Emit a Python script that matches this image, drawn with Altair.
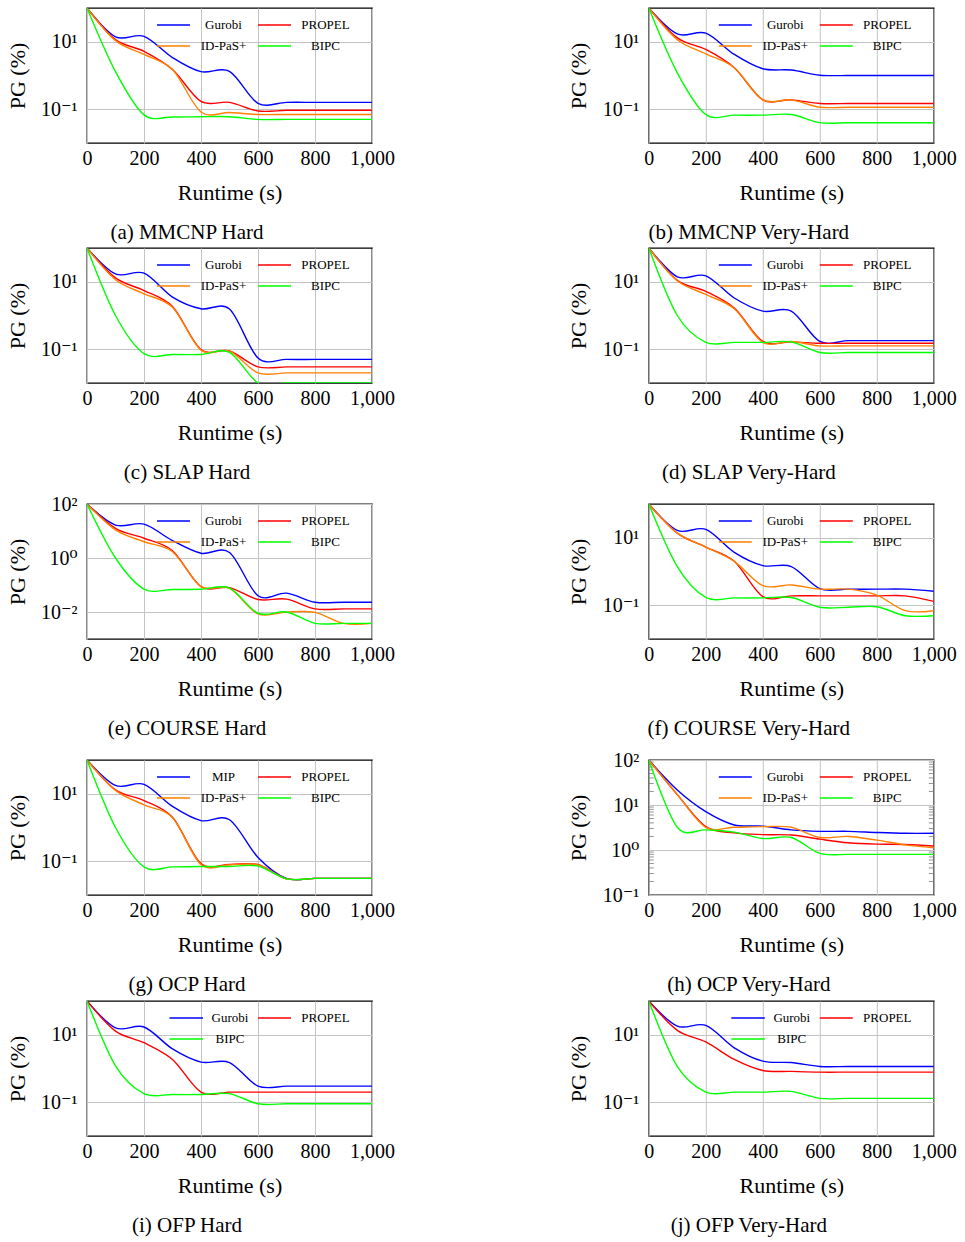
import altair as alt
import pandas as pd

# Shared time grid (seconds)
RUNTIME = [0, 100, 200, 300, 400, 500, 600, 700, 800, 900, 1000]

# Primal gap (%) per method, one dict of series per benchmark panel
MMCNP_HARD = {
    "Gurobi": [100, 14, 14.5, 3.4, 1.3, 1.33, 0.15, 0.16, 0.16, 0.16, 0.16],
    "PROPEL": [100, 11.6, 5.2, 1.5, 0.17, 0.16, 0.089, 0.093, 0.093, 0.093, 0.093],
    "ID-PaS+": [100, 10.8, 4.2, 1.5, 0.083, 0.08, 0.07, 0.07, 0.07, 0.07, 0.07],
    "BIPC": [100, 1.3, 0.068, 0.059, 0.06, 0.06, 0.05, 0.05, 0.05, 0.05, 0.05],
}
MMCNP_VHARD = {
    "Gurobi": [100, 17, 18, 4.2, 1.58, 1.45, 1.02, 1.0, 1.0, 1.0, 1.0],
    "PROPEL": [100, 13, 5.9, 1.7, 0.19, 0.19, 0.148, 0.148, 0.148, 0.148, 0.148],
    "ID-PaS+": [100, 11.5, 4.4, 1.7, 0.19, 0.19, 0.115, 0.115, 0.115, 0.115, 0.115],
    "BIPC": [100, 1.2, 0.07, 0.067, 0.067, 0.07, 0.04, 0.04, 0.04, 0.04, 0.04],
}
SLAP_HARD = {
    "Gurobi": [100, 17, 18, 3.5, 1.58, 1.55, 0.055, 0.05, 0.05, 0.05, 0.05],
    "PROPEL": [100, 13, 5.5, 1.85, 0.098, 0.089, 0.03, 0.03, 0.03, 0.03, 0.03],
    "ID-PaS+": [100, 11.5, 4.4, 1.75, 0.094, 0.088, 0.02, 0.02, 0.02, 0.02, 0.02],
    "BIPC": [100, 1.0, 0.074, 0.07, 0.07, 0.081, 0.0101, 0.0101, 0.0101, 0.0101, 0.0101],
}
SLAP_VHARD = {
    "Gurobi": [100, 14, 15, 3.3, 1.35, 1.35, 0.17, 0.18, 0.18, 0.18, 0.18],
    "PROPEL": [100, 11, 5.2, 1.66, 0.17, 0.165, 0.15, 0.15, 0.15, 0.15, 0.15],
    "ID-PaS+": [100, 10.7, 4.2, 1.58, 0.16, 0.17, 0.126, 0.126, 0.126, 0.126, 0.126],
    "BIPC": [100, 1.0, 0.16, 0.16, 0.16, 0.165, 0.08, 0.08, 0.08, 0.08, 0.08],
}
COURSE_HARD = {
    "Gurobi": [100, 16.6, 18, 4.4, 1.5, 1.6, 0.04, 0.05, 0.023, 0.023, 0.023],
    "PROPEL": [100, 12.6, 5.4, 1.87, 0.087, 0.08, 0.029, 0.03, 0.013, 0.013, 0.013],
    "ID-PaS+": [100, 11, 4, 1.7, 0.087, 0.075, 0.0085, 0.01, 0.0097, 0.0038, 0.0038],
    "BIPC": [100, 1.0, 0.071, 0.068, 0.07, 0.077, 0.009, 0.01, 0.0038, 0.0038, 0.0038],
}
COURSE_VHARD = {
    "Gurobi": [100, 16.5, 17.8, 3.7, 1.5, 1.4, 0.31, 0.3, 0.3, 0.3, 0.26],
    "PROPEL": [100, 13.7, 5.3, 2.0, 0.18, 0.19, 0.19, 0.19, 0.19, 0.19, 0.13],
    "ID-PaS+": [100, 13.7, 5.3, 2.0, 0.38, 0.4, 0.3, 0.3, 0.2, 0.069, 0.069],
    "BIPC": [100, 1.4, 0.17, 0.165, 0.165, 0.17, 0.087, 0.087, 0.09, 0.049, 0.049],
}
OCP_HARD = {
    "MIP": [100, 17.6, 19, 4.2, 1.6, 1.7, 0.13, 0.031, 0.031, 0.031, 0.031],
    "PROPEL": [100, 13, 6.3, 2.0, 0.085, 0.08, 0.08, 0.03, 0.031, 0.031, 0.031],
    "ID-PaS+": [100, 12.6, 4.7, 1.95, 0.08, 0.078, 0.078, 0.03, 0.031, 0.031, 0.031],
    "BIPC": [100, 1.0, 0.068, 0.068, 0.07, 0.07, 0.072, 0.03, 0.031, 0.031, 0.031],
}
OCP_VHARD = {
    "Gurobi": [100, 21.5, 7.1, 3.6, 3.4, 2.8, 2.6, 2.6, 2.45, 2.35, 2.35],
    "PROPEL": [100, 17, 3.3, 2.4, 2.2, 2.15, 1.74, 1.45, 1.35, 1.33, 1.23],
    "ID-PaS+": [100, 17, 3.2, 3.2, 3.3, 3.2, 1.9, 2.0, 1.66, 1.3, 1.12],
    "BIPC": [100, 3.2, 2.8, 2.5, 1.8, 1.9, 0.84, 0.8, 0.8, 0.8, 0.8],
}
OFP_HARD = {
    "Gurobi": [100, 16, 17, 3.8, 1.55, 1.5, 0.3, 0.3, 0.3, 0.3, 0.3],
    "PROPEL": [100, 12.8, 5.8, 1.85, 0.2, 0.2, 0.2, 0.2, 0.2, 0.2, 0.2],
    "BIPC": [100, 1.2, 0.18, 0.17, 0.17, 0.18, 0.09, 0.09, 0.09, 0.09, 0.09],
}
OFP_VHARD = {
    "Gurobi": [100, 18, 19, 4.1, 1.65, 1.5, 1.15, 1.15, 1.15, 1.15, 1.15],
    "PROPEL": [100, 13.5, 6.1, 1.85, 0.87, 0.82, 0.78, 0.78, 0.78, 0.78, 0.78],
    "BIPC": [100, 1.15, 0.2, 0.2, 0.2, 0.21, 0.13, 0.13, 0.13, 0.13, 0.13],
}

X_TICKS = [0, 200, 400, 600, 800, 1000]
Y_TICKS_STD = [0.1, 10]
Y_TICKS_COURSE = [0.01, 1, 100]
Y_TICKS_OCP = [0.1, 1, 10, 100]
MINOR_OCP = [0.2, 0.3, 0.4, 0.5, 0.6, 0.7, 0.8, 0.9,
             2, 3, 4, 5, 6, 7, 8, 9,
             20, 30, 40, 50, 60, 70, 80, 90]

COLORS = {"Gurobi": "#0000ff", "MIP": "#0000ff", "PROPEL": "#ff0000",
          "ID-PaS+": "#ff8000", "BIPC": "#00ff00"}
FONT = "Liberation Serif, DejaVu Serif, serif"
W, H = 285, 135
GRID = "#c4c4c4"

SUP = ("datum.value >= 50 ? '10²' : datum.value >= 5 ? '10¹' : "
       "datum.value >= 0.5 ? '10⁰' : datum.value >= 0.05 ? '10⁻¹' : '10⁻²'")

# legend slot geometry (pixels inside the plot): sample start, end, label centre, row y
FOUR = [(70, 103, 136.5, 17), (171, 204, 238.5, 17), (70, 103, 136.5, 38), (171, 204, 238.5, 38)]
THREE = [(82.5, 116, 143, 17), (171, 204, 238.5, 17), (82.5, 116, 143, 38)]


def one():
    return pd.DataFrame({"k": [0]})


def panel(caption, series, ydom, yticks, slots, top_margin, minor=None):
    x = alt.X("t:Q", scale=alt.Scale(domain=[0, 1000], nice=False, zero=False),
              axis=alt.Axis(values=X_TICKS, format=",d", grid=True, gridColor=GRID,
                            gridWidth=1, ticks=False, domain=False, labelFlush=False,
                            labelOverlap=False, labelFont=FONT, labelFontSize=20,
                            labelColor="black", labelBaseline="middle", labelPadding=15,
                            title="Runtime (s)", titleFont=FONT, titleFontSize=22,
                            titleFontWeight="normal", titleColor="black",
                            titleBaseline="middle", titleY=49))
    y = alt.Y("pg:Q", scale=alt.Scale(type="log", domain=ydom, nice=False),
              axis=alt.Axis(values=yticks, labelExpr=SUP, grid=True, gridColor=GRID,
                            gridWidth=1, ticks=False, domain=False, labelOverlap=False,
                            labelFont=FONT, labelFontSize=20, labelColor="black",
                            labelPadding=10, title="PG (%)", titleFont=FONT,
                            titleFontSize=22, titleFontWeight="normal",
                            titleColor="black", titleX=-70, titleY=H / 2,
                            titleBaseline="middle", titleAlign="center"))

    layers = [
        # fixed footprint of the panel so that the rows line up
        alt.Chart(one()).mark_rect(opacity=0).encode(
            x=alt.value(-86), x2=alt.value(310),
            y=alt.value(-top_margin), y2=alt.value(235))
    ]
    if minor is not None:
        mdf = pd.DataFrame({"pg": minor})
        for x0 in (0, W - 5):
            layers.append(alt.Chart(mdf).mark_rule(color="#7a7a7a", strokeWidth=0.8).encode(
                y=y, x=alt.value(x0), x2=alt.value(x0 + 5)))
    for name, vals in series.items():
        df = pd.DataFrame({"t": RUNTIME, "pg": vals})
        layers.append(alt.Chart(df).mark_line(
            interpolate="cardinal", tension=0.05, clip=True, strokeWidth=1.4,
            color=COLORS[name]).encode(x=x, y=y))
    for (name, (x0, x1, xl, yy)) in zip(series.keys(), slots):
        layers.append(alt.Chart(one()).mark_rule(color=COLORS[name], strokeWidth=1.4).encode(
            x=alt.value(x0), x2=alt.value(x1), y=alt.value(yy)))
        layers.append(alt.Chart(one()).mark_text(
            font=FONT, fontSize=13, color="black", align="center", baseline="middle").encode(
            x=alt.value(xl), y=alt.value(yy), text=alt.value(name)))
    layers.append(alt.Chart(one()).mark_text(
        font=FONT, fontSize=21, color="black", align="center", baseline="middle").encode(
        x=alt.value(100), y=alt.value(225), text=alt.value(caption)))
    return alt.layer(*layers).properties(width=W, height=H)


D = [0.01, 100]
rows = [
    (panel("(a) MMCNP Hard", MMCNP_HARD, D, Y_TICKS_STD, FOUR, 6.7),
     panel("(b) MMCNP Very-Hard", MMCNP_VHARD, D, Y_TICKS_STD, FOUR, 6.7)),
    (panel("(c) SLAP Hard", SLAP_HARD, D, Y_TICKS_STD, FOUR, 2.5),
     panel("(d) SLAP Very-Hard", SLAP_VHARD, D, Y_TICKS_STD, FOUR, 2.5)),
    (panel("(e) COURSE Hard", COURSE_HARD, [0.001, 100], Y_TICKS_COURSE, FOUR, 19.1),
     panel("(f) COURSE Very-Hard", COURSE_VHARD, D, Y_TICKS_STD, FOUR, 19.1)),
    (panel("(g) OCP Hard", OCP_HARD, D, Y_TICKS_STD, FOUR, 18.5),
     panel("(h) OCP Very-Hard", OCP_VHARD, [0.1, 100], Y_TICKS_OCP, FOUR, 18.5,
           minor=MINOR_OCP)),
    (panel("(i) OFP Hard", OFP_HARD, D, Y_TICKS_STD, THREE, 4.2),
     panel("(j) OFP Very-Hard", OFP_VHARD, D, Y_TICKS_STD, THREE, 4.2)),
]

chart = alt.vconcat(
    *[alt.hconcat(l, r, spacing=276.8, bounds="flush") for l, r in rows], spacing=0
).properties(padding=0, background="white").configure_view(
    stroke="black", strokeWidth=1.3
)

chart.save("out.html", embed_options={"renderer": "svg", "actions": False})
